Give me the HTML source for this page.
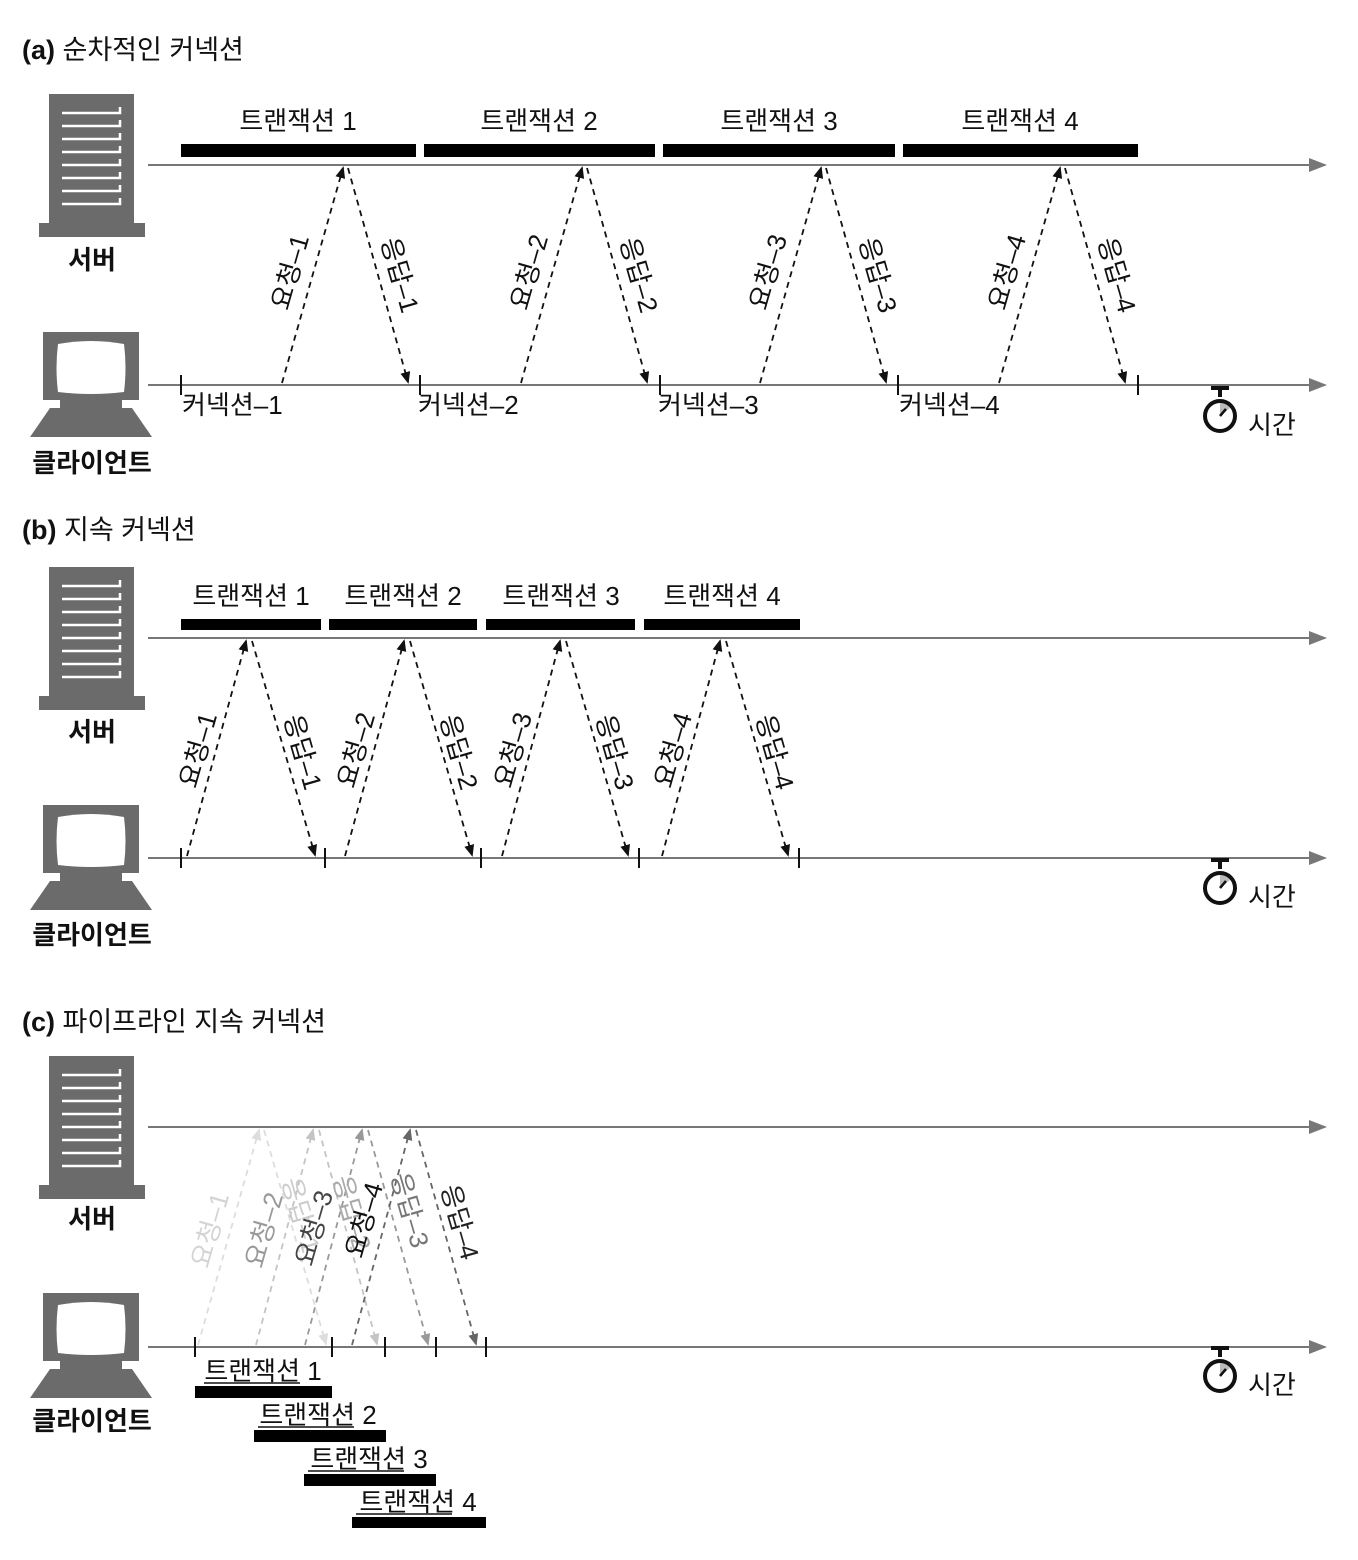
<!DOCTYPE html>
<html><head><meta charset="utf-8"><style>
html,body{margin:0;padding:0;background:#fff;}
svg{display:block;font-family:"Liberation Sans","Noto Sans CJK KR",sans-serif;}
.t{font-size:26px;fill:#111;}
.h{font-size:27px;fill:#111;}
.b{font-size:26px;font-weight:bold;fill:#111;}
.l{font-size:26px;fill:#111;}
.ln{stroke:#777;stroke-width:2;fill:none;}
.tk{stroke:#111;stroke-width:2;}
.d{stroke-width:1.8;stroke-dasharray:6,5;fill:none;}
</style></head><body>
<svg width="1358" height="1560" viewBox="0 0 1358 1560" xmlns="http://www.w3.org/2000/svg">
<defs>
<marker id="ah" markerWidth="12" markerHeight="12" refX="10" refY="5" orient="auto" markerUnits="userSpaceOnUse"><path d="M0,0 L12,5 L0,10 z" fill="#111"/></marker>
<marker id="m1" markerWidth="12" markerHeight="12" refX="10" refY="5" orient="auto" markerUnits="userSpaceOnUse"><path d="M0,0 L12,5 L0,10 z" fill="#ddd"/></marker>
<marker id="m2" markerWidth="12" markerHeight="12" refX="10" refY="5" orient="auto" markerUnits="userSpaceOnUse"><path d="M0,0 L12,5 L0,10 z" fill="#c4c4c4"/></marker>
<marker id="m3" markerWidth="12" markerHeight="12" refX="10" refY="5" orient="auto" markerUnits="userSpaceOnUse"><path d="M0,0 L12,5 L0,10 z" fill="#999"/></marker>
<marker id="m4" markerWidth="12" markerHeight="12" refX="10" refY="5" orient="auto" markerUnits="userSpaceOnUse"><path d="M0,0 L12,5 L0,10 z" fill="#666"/></marker>
<marker id="ga" markerWidth="18" markerHeight="14" refX="16" refY="7" orient="auto" markerUnits="userSpaceOnUse"><path d="M0,0 L18,7 L0,14 z" fill="#777"/></marker>
<g id="srv">
<rect x="49" y="0" width="85" height="134" fill="#6b6b6b"/>
<rect x="39" y="129" width="106" height="14" fill="#6b6b6b"/>
<g stroke="#fff" stroke-width="2.5" fill="none">
<path d="M62,19 H120 V13"/><path d="M62,32 H120 V26"/><path d="M62,45 H120 V39"/><path d="M62,58 H120 V52"/>
<path d="M62,71 H120 V65"/><path d="M62,84 H120 V78"/><path d="M62,97 H120 V91"/><path d="M62,110 H120 V104"/>
</g>
</g>
<g id="cli">
<rect x="43" y="0" width="96" height="68" fill="#6b6b6b"/>
<path d="M58,12 Q91,6 124,12 Q127,36 124,60 Q91,64 58,60 Q55,36 58,12 z" fill="#fff"/>
<rect x="60" y="68" width="62" height="9" fill="#6b6b6b"/>
<path d="M50,76 H132 L152,105 H30 z" fill="#6b6b6b"/>
</g>
<g id="sw">
<rect x="-9" y="-30" width="18" height="4" fill="#111"/>
<rect x="-2" y="-27" width="4" height="8" fill="#111"/>
<path d="M0,0 L0,-13 A13,13 0 0 1 10,-8 z" fill="#bbb"/>
<circle cx="0" cy="0" r="15" fill="none" stroke="#111" stroke-width="4"/>
<line x1="0" y1="0" x2="6" y2="-7" stroke="#111" stroke-width="2.5"/>
</g>
</defs>

<!-- ===== (a) ===== -->
<text x="22" y="59" class="h"><tspan font-weight="bold">(a)</tspan> 순차적인 커넥션</text>
<use href="#srv" x="0" y="94"/>
<text x="92" y="269" class="b" text-anchor="middle">서버</text>
<use href="#cli" x="0" y="332"/>
<text x="92" y="472" class="b" text-anchor="middle">클라이언트</text>
<line x1="148" y1="165" x2="1325" y2="165" class="ln" marker-end="url(#ga)"/>
<line x1="148" y1="385" x2="1325" y2="385" class="ln" marker-end="url(#ga)"/>
<g fill="#000">
<rect x="181" y="144" width="235" height="13"/><rect x="424" y="144" width="231" height="13"/>
<rect x="663" y="144" width="232" height="13"/><rect x="903" y="144" width="235" height="13"/>
</g>
<text x="298" y="130" class="t" text-anchor="middle">트랜잭션 1</text>
<text x="539" y="130" class="t" text-anchor="middle">트랜잭션 2</text>
<text x="779" y="130" class="t" text-anchor="middle">트랜잭션 3</text>
<text x="1020" y="130" class="t" text-anchor="middle">트랜잭션 4</text>
<g class="tk"><line x1="181" y1="375" x2="181" y2="395"/><line x1="420" y1="375" x2="420" y2="395"/><line x1="660" y1="375" x2="660" y2="395"/><line x1="898" y1="375" x2="898" y2="395"/><line x1="1138" y1="375" x2="1138" y2="395"/></g>
<g class="t">
<text x="182" y="414">커넥션–1</text><text x="418" y="414">커넥션–2</text><text x="658" y="414">커넥션–3</text><text x="899" y="414">커넥션–4</text>
</g>
<g stroke="#111" class="d">
<line x1="282" y1="383" x2="343" y2="168" marker-end="url(#ah)"/><line x1="348" y1="168" x2="408" y2="382" marker-end="url(#ah)"/>
<line x1="521" y1="383" x2="582" y2="168" marker-end="url(#ah)"/><line x1="587" y1="168" x2="647" y2="382" marker-end="url(#ah)"/>
<line x1="760" y1="383" x2="821" y2="168" marker-end="url(#ah)"/><line x1="826" y1="168" x2="886" y2="382" marker-end="url(#ah)"/>
<line x1="999" y1="383" x2="1060" y2="168" marker-end="url(#ah)"/><line x1="1065" y1="168" x2="1125" y2="382" marker-end="url(#ah)"/>
</g>
<g class="l" text-anchor="middle" dominant-baseline="central">
<text transform="translate(290,272) rotate(-74)">요청–1</text><text transform="translate(400,275) rotate(74)">응답–1</text>
<text transform="translate(529,272) rotate(-74)">요청–2</text><text transform="translate(639,275) rotate(74)">응답–2</text>
<text transform="translate(768,272) rotate(-74)">요청–3</text><text transform="translate(878,275) rotate(74)">응답–3</text>
<text transform="translate(1007,272) rotate(-74)">요청–4</text><text transform="translate(1117,275) rotate(74)">응답–4</text>
</g>
<use href="#sw" x="1220" y="416"/>
<text x="1248" y="434" class="t">시간</text>

<!-- ===== (b) ===== -->
<text x="22" y="539" class="h"><tspan font-weight="bold">(b)</tspan> 지속 커넥션</text>
<use href="#srv" x="0" y="567"/>
<text x="92" y="741" class="b" text-anchor="middle">서버</text>
<use href="#cli" x="0" y="805"/>
<text x="92" y="944" class="b" text-anchor="middle">클라이언트</text>
<line x1="148" y1="638" x2="1325" y2="638" class="ln" marker-end="url(#ga)"/>
<line x1="148" y1="858" x2="1325" y2="858" class="ln" marker-end="url(#ga)"/>
<g fill="#000">
<rect x="181" y="619" width="140" height="11"/><rect x="329" y="619" width="148" height="11"/>
<rect x="486" y="619" width="149" height="11"/><rect x="644" y="619" width="156" height="11"/>
</g>
<text x="251" y="605" class="t" text-anchor="middle">트랜잭션 1</text>
<text x="403" y="605" class="t" text-anchor="middle">트랜잭션 2</text>
<text x="561" y="605" class="t" text-anchor="middle">트랜잭션 3</text>
<text x="722" y="605" class="t" text-anchor="middle">트랜잭션 4</text>
<g class="tk"><line x1="181" y1="848" x2="181" y2="868"/><line x1="325" y1="848" x2="325" y2="868"/><line x1="481" y1="848" x2="481" y2="868"/><line x1="639" y1="848" x2="639" y2="868"/><line x1="799" y1="848" x2="799" y2="868"/></g>
<g stroke="#111" class="d">
<line x1="187" y1="856" x2="246" y2="641" marker-end="url(#ah)"/><line x1="252" y1="641" x2="315" y2="855" marker-end="url(#ah)"/>
<line x1="345" y1="856" x2="404" y2="641" marker-end="url(#ah)"/><line x1="410" y1="641" x2="472" y2="855" marker-end="url(#ah)"/>
<line x1="502" y1="856" x2="560" y2="641" marker-end="url(#ah)"/><line x1="566" y1="641" x2="628" y2="855" marker-end="url(#ah)"/>
<line x1="662" y1="856" x2="720" y2="641" marker-end="url(#ah)"/><line x1="726" y1="641" x2="788" y2="855" marker-end="url(#ah)"/>
</g>
<g class="l" text-anchor="middle" dominant-baseline="central">
<text transform="translate(198,750) rotate(-74)">요청–1</text><text transform="translate(303,752) rotate(74)">응답–1</text>
<text transform="translate(356,750) rotate(-74)">요청–2</text><text transform="translate(459,752) rotate(74)">응답–2</text>
<text transform="translate(513,750) rotate(-74)">요청–3</text><text transform="translate(615,752) rotate(74)">응답–3</text>
<text transform="translate(673,750) rotate(-74)">요청–4</text><text transform="translate(775,752) rotate(74)">응답–4</text>
</g>
<use href="#sw" x="1220" y="888"/>
<text x="1248" y="906" class="t">시간</text>

<!-- ===== (c) ===== -->
<text x="22" y="1031" class="h"><tspan font-weight="bold">(c)</tspan> 파이프라인 지속 커넥션</text>
<use href="#srv" x="0" y="1056"/>
<text x="92" y="1228" class="b" text-anchor="middle">서버</text>
<use href="#cli" x="0" y="1293"/>
<text x="92" y="1430" class="b" text-anchor="middle">클라이언트</text>
<line x1="148" y1="1127" x2="1325" y2="1127" class="ln" marker-end="url(#ga)"/>
<line x1="148" y1="1347" x2="1325" y2="1347" class="ln" marker-end="url(#ga)"/>
<g class="tk"><line x1="195" y1="1337" x2="195" y2="1357"/><line x1="332" y1="1337" x2="332" y2="1357"/><line x1="385" y1="1337" x2="385" y2="1357"/><line x1="436" y1="1337" x2="436" y2="1357"/><line x1="486" y1="1337" x2="486" y2="1357"/></g>
<g class="d">
<line stroke="#ddd" x1="198" y1="1345" x2="259" y2="1130" marker-end="url(#m1)"/><line stroke="#ddd" x1="264" y1="1130" x2="326" y2="1344" marker-end="url(#m1)"/>
<line stroke="#c4c4c4" x1="256" y1="1345" x2="313" y2="1130" marker-end="url(#m2)"/><line stroke="#c4c4c4" x1="319" y1="1130" x2="377" y2="1344" marker-end="url(#m2)"/>
<line stroke="#999" x1="305" y1="1345" x2="362" y2="1130" marker-end="url(#m3)"/><line stroke="#999" x1="368" y1="1130" x2="428" y2="1344" marker-end="url(#m3)"/>
<line stroke="#666" x1="352" y1="1345" x2="410" y2="1130" marker-end="url(#m4)"/><line stroke="#666" x1="416" y1="1130" x2="476" y2="1344" marker-end="url(#m4)"/>
</g>
<g class="l" text-anchor="middle" dominant-baseline="central">
<text fill="#d4d4d4" transform="translate(210,1230) rotate(-74)">요청–1</text>
<text fill="#ccc" transform="translate(301,1215) rotate(74)">응답–1</text>
<text fill="#999" transform="translate(264,1230) rotate(-74)">요청–2</text>
<text fill="#aaa" transform="translate(352,1213) rotate(74)">응답–2</text>
<text fill="#444" transform="translate(314,1228) rotate(-74)">요청–3</text>
<text fill="#777" transform="translate(410,1210) rotate(74)">응답–3</text>
<text fill="#111" transform="translate(364,1220) rotate(-74)">요청–4</text>
<text fill="#222" transform="translate(460,1222) rotate(74)">응답–4</text>
</g>
<g fill="#000">
<rect x="195" y="1386" width="137" height="12"/><rect x="254" y="1430" width="132" height="12"/>
<rect x="304" y="1474" width="132" height="12"/><rect x="352" y="1517" width="134" height="11"/>
</g>
<g class="t" text-anchor="middle">
<text x="263" y="1380">트랜잭션 1</text><text x="318" y="1424">트랜잭션 2</text>
<text x="369" y="1468">트랜잭션 3</text><text x="418" y="1511">트랜잭션 4</text>
</g>
<g stroke="#111" stroke-width="1.5">
<line x1="204" y1="1383" x2="300" y2="1383"/><line x1="258" y1="1427" x2="354" y2="1427"/>
<line x1="308" y1="1471" x2="404" y2="1471"/><line x1="356" y1="1514" x2="452" y2="1514"/>
</g>
<use href="#sw" x="1220" y="1376"/>
<text x="1248" y="1394" class="t">시간</text>
</svg>
</body></html>
